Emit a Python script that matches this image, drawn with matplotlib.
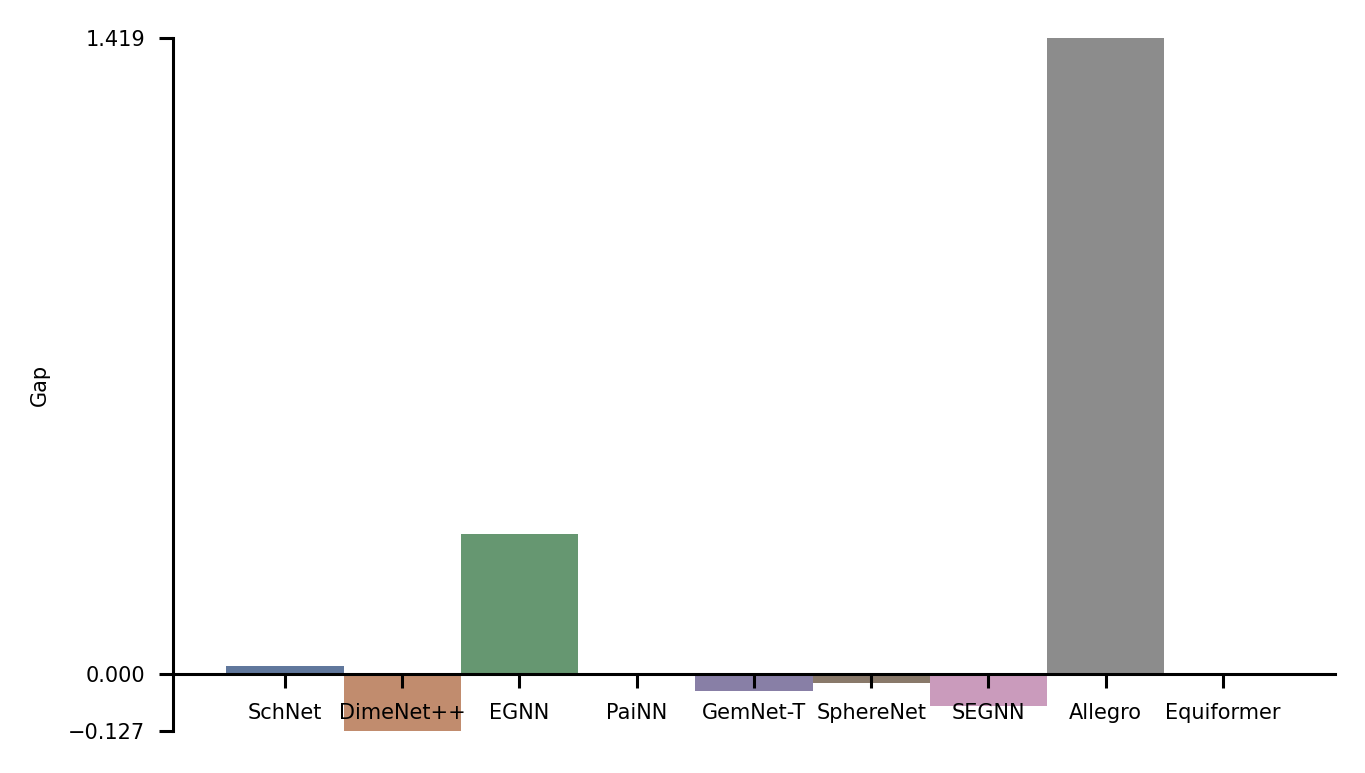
import matplotlib
matplotlib.use("Agg")
import matplotlib.pyplot as plt
import seaborn as sns

models = ["SchNet", "DimeNet++", "EGNN", "PaiNN", "GemNet-T",
          "SphereNet", "SEGNN", "Allegro", "Equiformer"]
gap = [0.018, -0.127, 0.312, 0.0, -0.038, -0.020, -0.071, 1.419, 0.0]
yticks = [-0.127, 0.0, 1.419]

# seaborn deep palette, washed out a bit
colors = [sns.desaturate(c, 0.6) for c in sns.color_palette("deep", len(models))]

fig = plt.figure(figsize=(6.825, 3.865), dpi=200)
ax = fig.add_axes([0.1267, 0.0543, 0.8513, 0.8965])

x = list(range(len(models)))
ax.bar(x, gap, width=1.0, color=colors)

ax.set_xlim(-0.955, 8.955)
ax.set_ylim(min(yticks), max(yticks))
ax.set_xticks(x)
ax.set_xticklabels(models)
ax.set_yticks(yticks)
ax.set_yticklabels([("%.3f" % v).replace("-", "\u2212") for v in yticks])

ax.spines["top"].set_visible(False)
ax.spines["right"].set_visible(False)
ax.spines["bottom"].set_position(("data", 0))
for s in ["left", "bottom"]:
    ax.spines[s].set_linewidth(1.1)

ax.tick_params(axis="both", length=5, width=1.1, labelsize=7.5)
ax.tick_params(axis="x", pad=5.5)
ax.tick_params(axis="y", pad=5)

ax.set_ylabel("Gap", fontsize=7.5)
ax.yaxis.set_label_coords(-0.106, 0.5)

fig.savefig("out.png", dpi=200)
